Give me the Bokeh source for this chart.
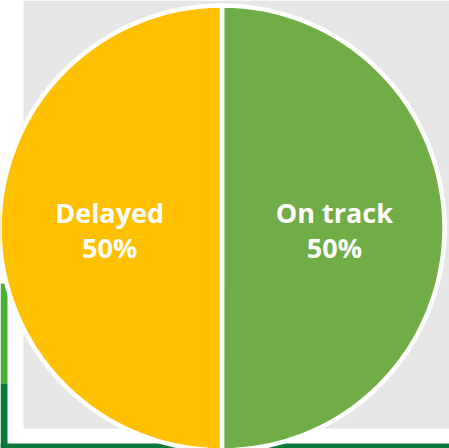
import numpy as np
from bokeh.plotting import figure
from bokeh.models import Range1d, ColumnDataSource
from bokeh.core.properties import value
from bokeh.embed import file_html
from bokeh.resources import INLINE

# ---- data ----
categories = ["On track", "Delayed"]
values = [50, 50]
colors = ["#70AD47", "#FFC000"]

W, H = 449, 448
p = figure(width=W, height=H, x_range=Range1d(0, W), y_range=Range1d(0, H),
           output_backend="svg", toolbar_location=None, min_border=0)
p.styles = {"position": "absolute", "left": "0px", "top": "0px"}
p.axis.visible = False
p.grid.visible = False
p.outline_line_color = None
p.background_fill_color = "white"
p.border_fill_color = "white"

# background decorations (screen-like layout, y up)
p.quad(left=23, right=W, bottom=20, top=H, fill_color="#E6E6E6", line_color=None)
p.quad(left=0, right=7, bottom=65, top=165, fill_color="#4DAE38", line_color=None)
p.quad(left=0, right=7, bottom=0, top=65, fill_color="#0A7A3A", line_color=None)
p.quad(left=0, right=W, bottom=0, top=5, fill_color="#0A7A3A", line_color=None)

# pie
cx, cy, R = 221.5, 220.5, 222.5
vals = np.array(values, dtype=float)
frac = vals / vals.sum()
cum = np.concatenate([[0], np.cumsum(frac)[:-1]])
start = np.pi / 2 - cum * 2 * np.pi
end = start - frac * 2 * np.pi
mid = (start + end) / 2
pct = [f"{round(f * 100)}%" for f in frac]

src = ColumnDataSource(dict(
    cat=categories, start=start, end=end, color=colors,
    lx=cx + 0.505 * R * np.cos(mid), ly=cy + 0.505 * R * np.sin(mid) - 2,
    label=[f"{c}\n{q}" for c, q in zip(categories, pct)],
))

p.wedge(x=cx, y=cy, radius=R, start_angle="start", end_angle="end",
        direction="clock", fill_color="color", line_color="white",
        line_width=4.5, source=src)

p.text(x="lx", y="ly", text="label", source=src, text_color="white",
       text_font=value("Open Sans"), text_font_style="bold",
       text_font_size="27px", text_align="center", text_baseline="middle",
       text_line_height=0.93)

open("out.html", "w").write(file_html(p, INLINE))
